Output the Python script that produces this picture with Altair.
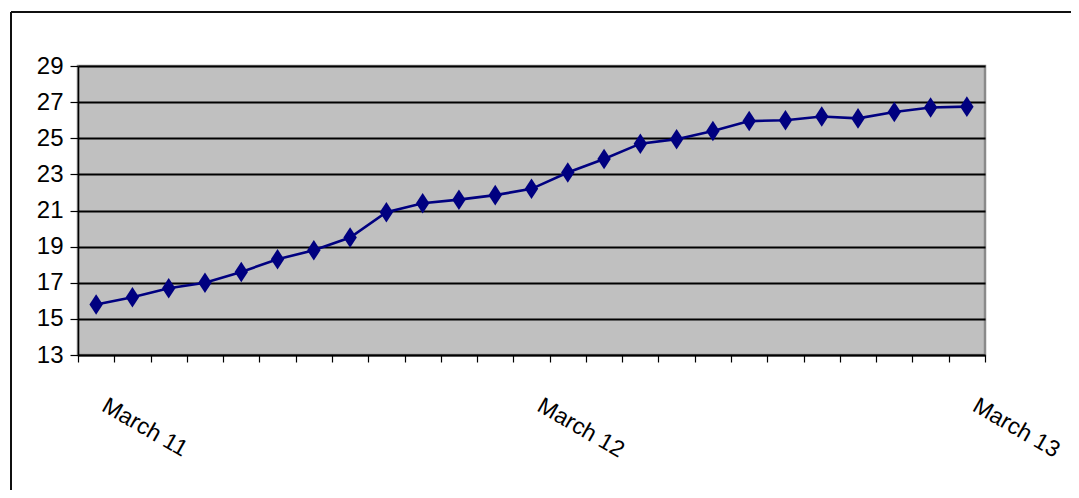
import altair as alt
import pandas as pd

values = [15.8, 16.2, 16.7, 17.0, 17.6, 18.3, 18.8, 19.5, 20.9, 21.4, 21.6, 21.85,
          22.2, 23.1, 23.85, 24.7, 24.95, 25.4, 25.95, 26.0, 26.2, 26.1, 26.45, 26.7, 26.75]
day_labels = ["March 11", "March 12", "March 13"]
day_ticks = [0, 12, 24]
y_ticks = [13, 15, 17, 19, 21, 23, 25, 27, 29]

df = pd.DataFrame({"slot": [i + 0.5 for i in range(len(values))], "value": values})

label_expr = " : ".join(
    f"datum.value == {t} ? '{l}'" for t, l in zip(day_ticks, day_labels)
) + " : ''"

W, H = 907, 289

x = alt.X("slot:Q", scale=alt.Scale(domain=[0, len(values)], nice=False, zero=False),
          axis=alt.Axis(values=list(range(len(values) + 1)), labelExpr=label_expr,
                        title=None, grid=False, tickColor="black", tickSize=7, tickWidth=1.2,
                        domainColor="black", domainWidth=1.5, labelAngle=30,
                        labelAlign="left", labelBaseline="top", labelOffset=31,
                        labelPadding=32, labelFontSize=23, labelFont="Liberation Sans",
                        labelColor="black", labelOverlap=False, labelFlush=False))
y = alt.Y("value:Q", scale=alt.Scale(domain=[13, 29], nice=False, zero=False),
          axis=alt.Axis(values=y_ticks, title=None, grid=True, gridColor="black",
                        gridWidth=1.9, tickColor="black", tickSize=8, tickWidth=1.2,
                        domainColor="black", domainWidth=1.5, labelFontSize=24,
                        labelFont="Liberation Sans", labelColor="black", labelPadding=7))

line = alt.Chart(df).mark_line(color="#000080", strokeWidth=2.6).encode(x=x, y=y)
pts = alt.Chart(df).mark_point(
    shape="M0,-1.3L0.85,0L0,1.3L-0.85,0Z", size=250, filled=True, opacity=1,
    color="#000080").encode(x=x, y=y)

frame_v = alt.Chart(df).mark_rule(color="#111111", strokeWidth=1.6).encode(
    x=alt.value(-67), y=alt.value(-54), y2=alt.value(440))
frame_h = alt.Chart(df).mark_rule(color="#111111", strokeWidth=1.6).encode(
    x=alt.value(-67), x2=alt.value(1010), y=alt.value(-54))

chart = alt.layer(line, pts, frame_v, frame_h).properties(
    width=W, height=H,
    autosize=alt.AutoSizeParams(type="none"),
    padding={"left": 70, "top": 58, "right": 86, "bottom": 135},
    background="white",
).configure_view(fill="#C0C0C0", stroke="#8a8a8a", strokeWidth=2.5)

chart.save("out.html", embed_options={"renderer": "svg", "actions": False})
